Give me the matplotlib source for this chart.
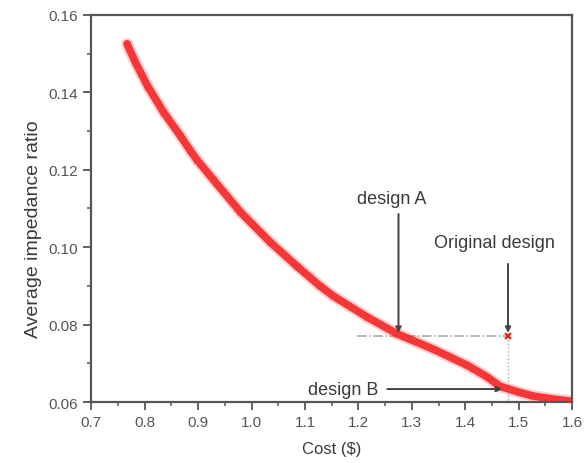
import matplotlib
matplotlib.use("Agg")
import matplotlib.pyplot as plt
from matplotlib.ticker import MultipleLocator

plt.rcParams['font.family'] = ['Liberation Sans', 'DejaVu Sans']

# pareto front
cost = [0.767, 0.782, 0.805, 0.835, 0.867, 0.885, 0.898, 0.928, 0.979,
        1.035, 1.085, 1.128, 1.153, 1.216, 1.273, 1.340, 1.404, 1.440, 1.465, 1.500, 1.527, 1.560, 1.595]
ratio = [0.1525, 0.1479, 0.1417, 0.1349, 0.1287, 0.1250, 0.1225, 0.1175, 0.1091,
         0.1013, 0.0951, 0.0900, 0.0874, 0.0820, 0.0776, 0.0737, 0.0695, 0.0666, 0.0641, 0.0626, 0.0616, 0.0609, 0.0603]

orig = (1.480, 0.0771)
design_a = (1.275, 0.0771)
design_b = (1.469, 0.0634)

fig = plt.figure(figsize=(5.85, 4.64), dpi=100)
ax = fig.add_axes([0.156, 0.131, 0.822, 0.835])

red = '#f41c1c'
ax.plot(cost, ratio, '-', color='#ff6060', lw=8.5, alpha=0.3, solid_capstyle='round',
        solid_joinstyle='round', zorder=2)
ax.plot(cost, ratio, '-', color=red, lw=5.5, alpha=0.85, solid_capstyle='round',
        solid_joinstyle='round', zorder=2)
ax.plot(cost, ratio, 'x', color='#ff3030', ms=4, mew=0.8, alpha=0.6, zorder=3)
ax.plot([orig[0]], [orig[1]], 'x', color=red, ms=5, mew=1.6, zorder=3)

# guide lines
grey = '#a0ab9c'
ax.plot([1.198, orig[0]], [orig[1], orig[1]], color=grey, lw=1.1, ls='-.', zorder=1)
ax.plot([orig[0], orig[0]], [orig[1], 0.0605], color=grey, lw=1.0, ls=':', zorder=1)

arrow = dict(arrowstyle='-|>', color='#444444', lw=1.4, mutation_scale=8,
             shrinkA=0, shrinkB=0)
tcol = '#3a3a3a'
ax.annotate('', xy=(design_a[0], design_a[1] + 0.0008), xytext=(design_a[0], 0.1086),
            arrowprops=arrow)
ax.text(1.262, 0.1127, 'design A', ha='center', va='center', fontsize=13, color=tcol)

ax.annotate('', xy=(orig[0], orig[1] + 0.0008), xytext=(orig[0], 0.0957),
            arrowprops=arrow)
ax.text(1.455, 0.1013, 'Original design', ha='center', va='center', fontsize=13, color=tcol)

ax.annotate('', xy=design_b, xytext=(1.254, design_b[1]), arrowprops=arrow)
ax.text(1.237, design_b[1], 'design B', ha='right', va='center', fontsize=13, color=tcol)

ax.set_xlim(0.7, 1.6)
ax.set_ylim(0.06, 0.16)
ax.xaxis.set_major_locator(MultipleLocator(0.1))
ax.xaxis.set_minor_locator(MultipleLocator(0.05))
ax.yaxis.set_major_locator(MultipleLocator(0.02))
ax.yaxis.set_minor_locator(MultipleLocator(0.01))
ax.xaxis.set_major_formatter(plt.FormatStrFormatter('%.1f'))
ax.yaxis.set_major_formatter(plt.FormatStrFormatter('%.2f'))

spine_col = '#555555'
for s in ax.spines.values():
    s.set_color(spine_col)
    s.set_linewidth(1.6)
ax.tick_params(which='both', direction='out', colors=spine_col, labelcolor='#555555',
               top=False, right=False)
ax.tick_params(which='major', length=6, width=1.3, labelsize=11)
ax.tick_params(which='minor', length=3, width=1.1)

ax.set_xlabel('Cost ($)', fontsize=12, color=tcol, labelpad=8)
ax.set_ylabel('Average impedance ratio', fontsize=14, color=tcol)
ax.yaxis.set_label_coords(-0.103, 0.45)

fig.savefig('out.png', dpi=100)
